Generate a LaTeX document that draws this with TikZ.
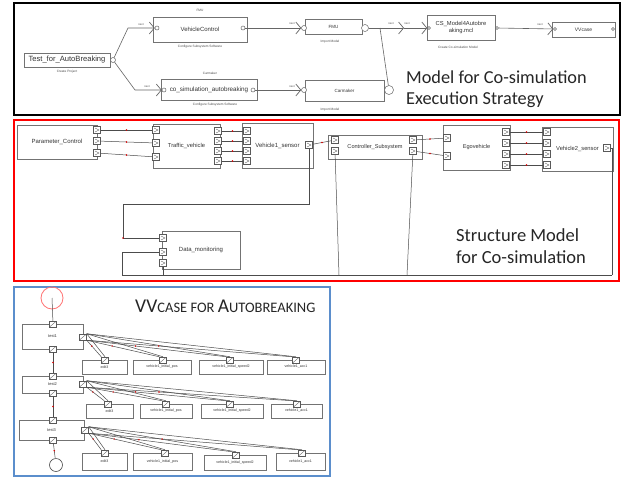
\documentclass[tikz,border=0pt]{standalone}
\usepackage{fontspec}
\setmainfont{Liberation Sans}
\newfontfamily\calib{Carlito}
\usetikzlibrary{arrows.meta}
\definecolor{blueB}{RGB}{91,142,204}
\newcommand\fsz[1]{\fontsize{#1}{#1}\selectfont}
\newcommand\bx[7][]{\pgfmathsetmacro\bxw{#5-#3}\pgfmathsetmacro\bxh{#6-#4}\node[box,minimum width=\bxw pt,minimum height=\bxh pt,#1] (#2) at ({(#3+#5)/2},{(#4+#6)/2}) {#7};}
\newcommand\prt[4][]{\node[#1] (#2) at (#3,#4) {};}
\newcommand\lbl[5][]{\node[#1] (#2) at (#3,#4) {#5};}
\begin{document}
\begin{tikzpicture}[x=1pt,y=-1pt,
 box/.style={draw=black!55,line width=.6pt,inner sep=0pt,outer sep=0pt,fill=white,align=center,text=black!80},
 sock/.style={circle,draw=black!60,fill=white,line width=.5pt,inner sep=0pt,minimum size=#1},
 sock/.default=4pt,
 conn/.style={draw=black!60,line width=.6pt},
 arr/.style={conn,-{Straight Barb[length=5pt,width=12pt,line width=.7pt]}},
 tiny/.style={inner sep=0pt,font=\fsz{3.2},text=black!70},
 nxt/.style={inner sep=0pt,font=\fsz{2.8},text=black!70},
 mport/.style={draw=black!65,fill=white,line width=.45pt,inner sep=0pt,minimum width=7pt,minimum height=7pt,
   path picture={\draw[black!65,line width=.35pt] ([xshift=1.5pt,yshift=-1.5pt]path picture bounding box.north west) -- ([xshift=-1.5pt]path picture bounding box.east) -- ([xshift=1.5pt,yshift=1.5pt]path picture bounding box.south west);}},
 bport/.style={draw=black!65,fill=white,line width=.45pt,inner sep=0pt,minimum width=7pt,minimum height=6pt,
   path picture={\draw[black!65,line width=.35pt] (path picture bounding box.south west) -- (path picture bounding box.north east);}},
 rdot/.style={circle,fill=red!85!black,inner sep=0pt,minimum size=1.6pt},
 wire/.style={draw=black!70,line width=.5pt},
 bigt/.style={anchor=west,align=left,inner sep=0pt,text=black!85},
]
\useasboundingbox (0,0) rectangle (624,477);
\fill[white] (0,0) rectangle (624,477);

% ===================== top panel =====================
\draw[line width=2.5pt] (14,3) rectangle (620,115);

\bx[font=\fsz{7.6}]{T}{24}{53}{110}{67}{Test\_for\_AutoBreaking}
\node[sock=5pt] (Ts) at (113,60) {};
\lbl[tiny]{Tl}{67}{72}{Create Project}

\bx[font=\fsz{6}]{VC}{153}{17}{247}{42}{VehicleControl}
\node[sock] (VCl) at (157,28) {};
\node[sock] (VCr) at (243,28) {};
\lbl[tiny]{VCa}{200}{10}{FMU}
\lbl[tiny]{VCb}{200}{47}{Configure Subsystem Software}

\bx[font=\fsz{6.3}]{CO}{161}{79}{257}{100}{co\_simulation\_autobreaking}
\node[sock] (COl) at (164,90) {};
\node[sock] (COr) at (253,90) {};
\lbl[tiny]{COa}{210}{73}{Carmaker}
\lbl[tiny]{COb}{215}{105}{Configure Subsystem Software}

\bx[font=\fsz{4.5}]{FM}{305}{19}{362}{34}{FMU}
\node[sock=5pt] (FMl) at (304,28) {};
\node[sock=7pt] (FMr) at (365,28) {};
\lbl[tiny]{FMb}{330}{42}{Import Model}

\bx[font=\fsz{4.5}]{CA}{305}{80}{384}{101}{Carmaker}
\node[sock=5pt] (CAl) at (304,90) {};
\node[sock=9pt] (CAr) at (389,90) {};
\lbl[tiny]{CAb}{330}{110}{Import Model}

\bx[font=\fontsize{5.8}{7}\selectfont]{CS}{427}{15}{495}{40}{CS\_Model4Autobre\\aking.mcl}
\node[sock=3pt] (CSl) at (429,28) {};
\node[sock=3pt] (CSr) at (497,28) {};
\lbl[tiny]{CSb}{458}{47}{Create Co-simulation Model}

\bx[font=\fsz{5}]{VV}{552}{22}{615}{37}{VVcase}
\node[sock=3pt] (VVl) at (555,29) {};
\node[sock=3pt] (VVr) at (613,29) {};

\draw[arr] (Ts) -- (128,28) -- (VCl);
\draw[arr] (Ts) -- (135,90) -- (COl);
\draw[arr] (VCr) -- (FMl);
\draw[arr] (COr) -- (CAl);
\coordinate (ch1) at (404,28);
\coordinate (br) at (380,28);
\draw[arr] (FMr) -- (ch1);
\draw[arr] (ch1) -- (CSl);
\draw[conn] (br) -- (CAr);
\draw[arr] (CSr) -- (VVl);

\lbl[nxt]{n1}{141}{25}{next}
\lbl[nxt]{n2}{147}{87}{next}
\lbl[nxt]{n3}{292}{24}{next}
\lbl[nxt]{n4}{292}{87}{next}
\lbl[nxt]{n5}{391}{24}{next}
\lbl[nxt]{n6}{407}{24}{next}
\lbl[nxt]{n7}{540}{25}{next}

\node[bigt,font=\calib\fontsize{18.3}{21}\selectfont] (ttl1) at (406,89) {Model for Co-simulation\\Execution Strategy};

% ===================== middle panel =====================
\draw[red,line width=2.2pt] (14,120) rectangle (619,281);

\bx[font=\fsz{6}]{PC}{17}{125}{97}{159}{Parameter\_Control}
\prt[mport]{pc1}{97}{130}
\prt[mport]{pc2}{97}{141}
\prt[mport]{pc3}{97}{153}

\bx[font=\fsz{5.8}]{TV}{153}{124}{220}{168}{Traffic\_vehicle}
\prt[mport]{tvi1}{156}{130}
\prt[mport]{tvi2}{156}{143}
\prt[mport]{tvi3}{156}{157}
\prt[mport]{tvo1}{218}{131}
\prt[mport]{tvo2}{218}{141}
\prt[mport]{tvo3}{218}{151}
\prt[mport]{tvo4}{218}{161}

\bx[font=\fsz{6}]{V1}{242}{123}{313}{168}{Vehicle1\_sensor}
\prt[mport]{v1i1}{247}{131}
\prt[mport]{v1i2}{247}{141}
\prt[mport]{v1i3}{247}{151}
\prt[mport]{v1i4}{247}{161}
\prt[mport]{v1o}{309}{145}

\bx[font=\fsz{5.6}]{CT}{328}{135}{422}{159}{Controller\_Subsystem}
\prt[mport]{ci1}{335}{140}
\prt[mport]{ci2}{335}{151}
\prt[mport]{co1}{413}{140}
\prt[mport]{co2}{413}{151}

\bx[font=\fsz{5.6}]{EG}{443}{125}{510}{170}{Egovehicle}
\prt[mport]{ei1}{447}{138}
\prt[mport]{ei2}{447}{156}
\prt[mport]{eo1}{506}{132}
\prt[mport]{eo2}{506}{143}
\prt[mport]{eo3}{506}{154}
\prt[mport]{eo4}{506}{165}

\bx[font=\fsz{5.8}]{V2}{542}{127}{613}{171}{Vehicle2\_sensor}
\prt[mport]{v2i1}{547}{132}
\prt[mport]{v2i2}{547}{143}
\prt[mport]{v2i3}{547}{154}
\prt[mport]{v2i4}{547}{165}
\prt[mport]{v2o}{607}{148}

\bx[font=\fsz{6}]{DM}{162}{231}{240}{269}{Data\_monitoring}
\prt[mport]{dm1}{163}{238}
\prt[mport]{dm2}{163}{252}
\prt[mport]{dm3}{163}{263}

\draw[wire] (pc1) -- node[rdot]{} (tvi1);
\draw[wire] (pc2) -- node[rdot]{} (tvi2);
\draw[wire] (pc3) -- node[rdot]{} (tvi3);
\foreach \k in {1,2,3,4}{\draw[wire] (tvo\k) -- node[rdot]{} (v1i\k);}
\foreach \k in {1,2,3,4}{\draw[wire] (eo\k) -- node[rdot]{} (v2i\k);}
\draw[wire] (v1o) -- node[rdot]{} (ci1);
\draw[wire] (co1) -- node[rdot]{} (ei1);
\draw[wire] (co2) -- node[rdot]{} (ei2);
\draw[wire] (v1o.south) |- (123,204) -- (123,238) -- (dm1);
\node[rdot] (rd1) at (123,238) {};
\coordinate (busL) at (122,275);
\coordinate (busR) at (612,275);
\draw[wire] (dm2) -| (busL) -- (busR);
\draw[wire] (dm3) -- (163,275);
\draw[wire] (ci2) -- (339,275);
\draw[wire] (co2) -- (407,275);
\draw[wire] (v2o) -| (busR);

\node[bigt,font=\calib\fontsize{18.5}{21.5}\selectfont] (ttl2) at (456,246) {Structure Model\\for Co-simulation};

% ===================== bottom panel =====================
\draw[blueB,line width=1.8pt] (14,287) rectangle (330,476);

\node[circle,draw=red!55,line width=.8pt,minimum size=22pt,inner sep=0pt] (S) at (52,298) {};
\node[circle,draw=black!70,line width=.6pt,minimum size=13pt,inner sep=0pt] (E) at (56,465) {};

\bx[font=\fsz{4}]{t1}{22}{324}{83}{349}{test1}
\prt[bport]{t1t}{53}{324}
\prt[bport]{t1b}{53}{349}
\prt[bport]{t1r}{83}{337}
\bx[font=\fsz{4}]{t2}{22}{376}{83}{393}{test2}
\prt[bport]{t2t}{53}{376}
\prt[bport]{t2b}{53}{393}
\prt[bport]{t2r}{83}{384}
\bx[font=\fsz{4}]{t3}{19}{420}{84}{440}{test3}
\prt[bport]{t3t}{53}{420}
\prt[bport]{t3b}{53}{440}
\prt[bport]{t3r}{85}{430}

\draw[wire] (S.center) -- (t1t);
\draw[wire] (t1b) -- node[rdot]{} (t2t);
\draw[wire] (t2b) -- node[rdot]{} (t3t);
\draw[wire] (t3b) -- node[rdot]{} (E);

\bx[font=\fsz{3.6}]{r1a}{82}{360}{127}{374}{edit3}
\bx[font=\fsz{3.6}]{r1b}{133}{360}{191}{374}{vehicle1\_initial\_pos}
\bx[font=\fsz{3.6}]{r1c}{199}{360}{263}{374}{vehicle1\_initial\_speed2}
\bx[font=\fsz{3.6}]{r1d}{267}{360}{325}{374}{vehicle1\_acc1}
\prt[bport]{r1ap}{105}{360}
\prt[bport]{r1bp}{163}{360}
\prt[bport]{r1cp}{230}{360}
\prt[bport]{r1dp}{296}{360}

\bx[font=\fsz{3.6}]{r2a}{86}{404}{133}{418}{edit3}
\bx[font=\fsz{3.6}]{r2b}{140}{404}{192}{418}{vehicle1\_initial\_pos}
\bx[font=\fsz{3.6}]{r2c}{201}{404}{263}{418}{vehicle1\_initial\_speed2}
\bx[font=\fsz{3.6}]{r2d}{271}{404}{322}{418}{vehicle1\_acc1}
\prt[bport]{r2ap}{108}{404}
\prt[bport]{r2bp}{166}{404}
\prt[bport]{r2cp}{230}{404}
\prt[bport]{r2dp}{297}{404}

\bx[font=\fsz{3.6}]{r3a}{82}{453}{127}{470}{edit3}
\bx[font=\fsz{3.6}]{r3b}{133}{453}{192}{470}{vehicle1\_initial\_pos}
\bx[font=\fsz{3.6}]{r3c}{204}{455}{266}{470}{vehicle1\_initial\_speed2}
\bx[font=\fsz{3.6}]{r3d}{276}{453}{325}{470}{vehicle1\_acc1}
\prt[bport]{r3ap}{105}{453}
\prt[bport]{r3bp}{165}{453}
\prt[bport]{r3cp}{236}{455}
\prt[bport]{r3dp}{302}{453}

\foreach \s/\d in {t1r/r1ap,t1r/r1bp,t1r/r1cp,t1r/r1dp,t2r/r2ap,t2r/r2bp,t2r/r2cp,t2r/r2dp,t3r/r3ap,t3r/r3bp,t3r/r3cp,t3r/r3dp}{
  \draw[wire] (\s.north east) -- (\d.north);
  \draw[wire] (\s.south east) -- node[rdot,pos=.35]{} (\d.north west);
}

\node[bigt,font=\calib] (ttl3) at (135,306) {\fontsize{19.5}{20}\selectfont VV\fontsize{14.5}{15}\selectfont CASE FOR \fontsize{19.5}{20}\selectfont A\fontsize{14.5}{15}\selectfont UTOBREAKING};
\end{tikzpicture}
\end{document}
